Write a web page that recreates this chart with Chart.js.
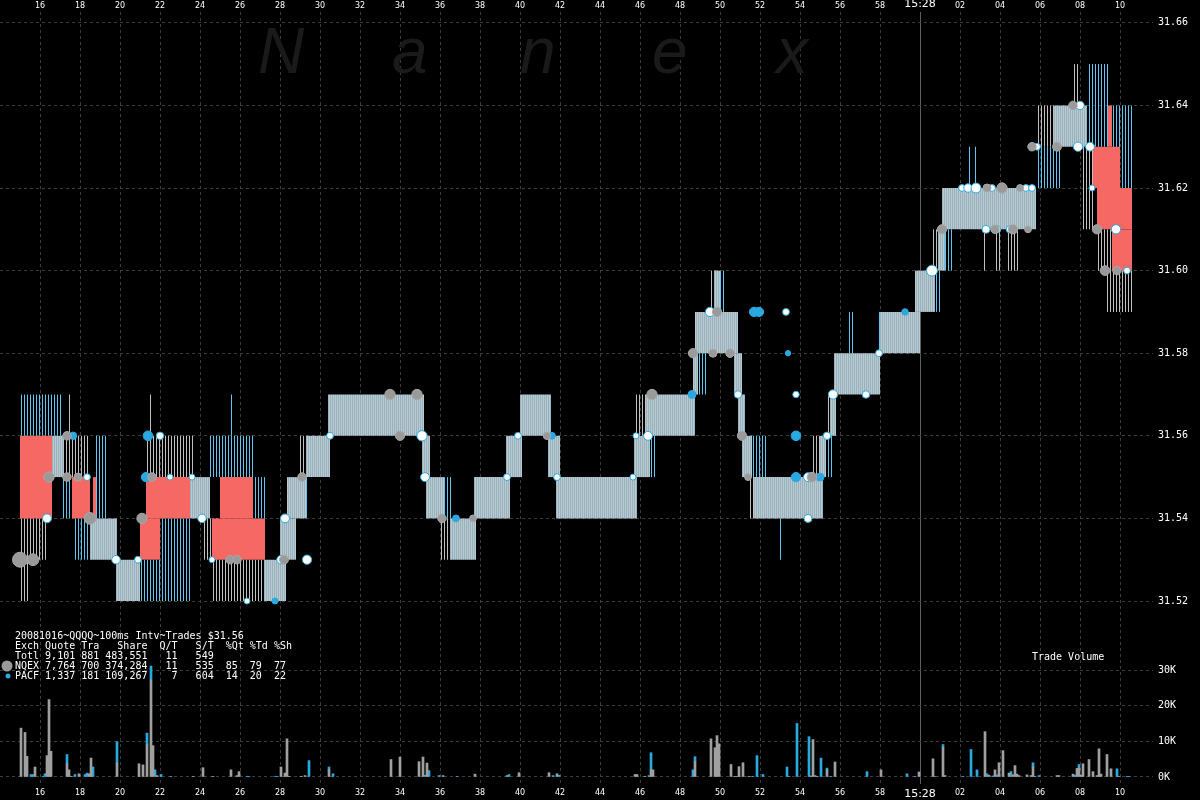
<!DOCTYPE html>
<html>
<head>
<meta charset="utf-8">
<title>QQQQ 100ms trades</title>
<script src="https://cdn.jsdelivr.net/npm/chart.js@4.4.1/dist/chart.umd.min.js"></script>
<style>
  html, body { margin: 0; padding: 0; background: #000; }
  #wrap { width: 1200px; height: 800px; }
</style>
</head>
<body>
<div id="wrap"><canvas id="chart" width="1200" height="800"></canvas></div>
<script>
// time is seconds after 15:27:00
const xTickValues = [16, 18, 20, 22, 24, 26, 28, 30, 32, 34, 36, 38, 40, 42, 44, 46, 48, 50, 52, 54, 56, 58, 60, 62, 64, 66, 68, 70];
const xTickLabels = ['16', '18', '20', '22', '24', '26', '28', '30', '32', '34', '36', '38', '40', '42', '44', '46', '48', '50', '52', '54', '56', '58', '15:28', '02', '04', '06', '08', '10'];
const priceTicks = [31.52, 31.54, 31.56, 31.58, 31.60, 31.62, 31.64, 31.66];
const volumeTicks = [0, 10000, 20000, 30000];

// quote ranges: [start, end, low, high]
const spreadSegs = [
  [16.6, 17.15, 31.55, 31.56], [18.5, 19.85, 31.53, 31.54], [19.8, 21.0, 31.52, 31.53],
  [23.5, 24.5, 31.54, 31.55], [27.2, 28.3, 31.52, 31.53], [28.0, 28.8, 31.53, 31.54],
  [28.35, 29.3, 31.54, 31.55], [29.3, 30.5, 31.55, 31.56], [30.4, 35.2, 31.56, 31.57],
  [35.1, 35.5, 31.55, 31.56], [35.3, 36.2, 31.54, 31.55], [36.5, 37.8, 31.53, 31.54],
  [37.7, 39.5, 31.54, 31.55], [39.3, 40.1, 31.55, 31.56], [40.0, 41.55, 31.56, 31.57],
  [41.4, 42.0, 31.55, 31.56], [41.8, 45.85, 31.54, 31.55], [45.7, 46.5, 31.55, 31.56],
  [46.25, 48.75, 31.56, 31.57], [48.65, 48.9, 31.57, 31.58], [48.75, 50.9, 31.58, 31.59],
  [49.7, 50.0, 31.59, 31.60], [50.7, 51.1, 31.57, 31.58], [50.9, 51.25, 31.56, 31.57],
  [51.1, 51.6, 31.55, 31.56], [51.65, 55.15, 31.54, 31.55], [55.0, 55.3, 31.55, 31.56],
  [55.5, 55.8, 31.56, 31.57], [55.7, 58.0, 31.57, 31.58], [58.0, 60.0, 31.58, 31.59],
  [59.75, 60.75, 31.59, 31.60], [60.9, 61.25, 31.60, 31.61], [61.1, 65.8, 31.61, 31.62],
  [66.7, 68.35, 31.63, 31.64]
];
const crossedSegs = [
  [15.0, 16.6, 31.54, 31.56], [17.6, 18.5, 31.54, 31.55], [18.65, 18.8, 31.54, 31.55],
  [21.0, 22.0, 31.53, 31.54], [21.3, 23.5, 31.54, 31.55], [24.6, 27.25, 31.53, 31.54],
  [25.0, 26.65, 31.54, 31.55], [69.4, 69.6, 31.63, 31.64], [68.65, 70.0, 31.62, 31.63],
  [68.85, 70.6, 31.61, 31.62], [69.6, 70.6, 31.60, 31.61]
];
const nqexQuoteSegs = [
  [15.0, 15.4, 31.52, 31.54], [15.4, 16.35, 31.53, 31.54], [17.15, 18.4, 31.55, 31.56],
  [17.4, 17.6, 31.56, 31.57], [21.3, 23.65, 31.55, 31.56], [21.45, 21.6, 31.56, 31.57],
  [24.15, 24.9, 31.53, 31.54], [24.6, 27.25, 31.52, 31.53], [29.0, 29.3, 31.55, 31.56],
  [36.0, 36.5, 31.53, 31.54], [45.75, 46.25, 31.56, 31.57], [49.45, 49.6, 31.59, 31.60],
  [51.4, 51.65, 31.54, 31.55], [54.6, 55.0, 31.55, 31.56], [55.3, 55.5, 31.56, 31.57],
  [60.6, 60.9, 31.60, 31.61], [63.15, 63.3, 31.60, 31.61], [63.7, 64.1, 31.60, 31.61],
  [64.4, 64.9, 31.60, 31.61], [65.8, 66.7, 31.63, 31.64], [67.7, 68.0, 31.64, 31.65],
  [68.1, 68.65, 31.61, 31.63], [68.9, 69.6, 31.60, 31.61], [69.25, 70.65, 31.59, 31.60]
];
const pacfQuoteSegs = [
  [15.0, 17.15, 31.56, 31.57], [17.15, 17.6, 31.54, 31.55], [17.65, 18.5, 31.53, 31.54],
  [18.75, 19.3, 31.54, 31.56], [21.0, 22.0, 31.52, 31.53], [22.0, 23.5, 31.52, 31.54],
  [24.5, 26.65, 31.55, 31.56], [25.45, 25.6, 31.56, 31.57], [26.65, 27.3, 31.54, 31.55],
  [29.15, 29.35, 31.54, 31.55], [36.2, 36.6, 31.54, 31.55], [46.5, 46.8, 31.55, 31.56],
  [48.9, 49.3, 31.57, 31.58], [49.7, 50.3, 31.59, 31.60], [51.6, 52.3, 31.55, 31.56],
  [53.0, 53.15, 31.53, 31.54], [55.3, 55.65, 31.55, 31.56], [56.45, 56.7, 31.58, 31.59],
  [57.85, 58.0, 31.58, 31.59], [60.75, 61.0, 31.59, 31.60], [61.25, 61.6, 31.60, 31.61],
  [62.35, 62.5, 31.62, 31.63], [62.75, 62.9, 31.62, 31.63], [65.8, 67.1, 31.62, 31.63],
  [68.35, 69.5, 31.63, 31.65], [69.6, 70.65, 31.62, 31.64]
];

// trades: [time, price, shares]
const nqexTrades = [
  [15.0, 31.53, 3000], [15.65, 31.53, 1500], [17.35, 31.56, 500], [16.45, 31.55, 1000],
  [17.35, 31.55, 500], [17.9, 31.55, 400], [18.5, 31.54, 1500], [21.1, 31.54, 1000],
  [21.6, 31.55, 500], [25.5, 31.53, 500], [25.85, 31.53, 500], [28.2, 31.53, 600],
  [29.1, 31.55, 500], [33.5, 31.57, 1000], [34.85, 31.57, 1000], [34.0, 31.56, 700],
  [36.1, 31.54, 500], [37.65, 31.54, 200], [41.35, 31.56, 300], [46.6, 31.57, 1000],
  [48.65, 31.58, 700], [49.65, 31.58, 400], [50.5, 31.58, 500], [49.85, 31.59, 700],
  [51.1, 31.56, 700], [51.4, 31.55, 200], [54.6, 31.55, 800], [61.1, 31.61, 700],
  [63.35, 31.62, 400], [64.1, 31.62, 1000], [65.0, 31.62, 200], [63.75, 31.61, 500],
  [64.65, 31.61, 700], [65.4, 31.61, 200], [65.6, 31.63, 500], [66.85, 31.63, 600],
  [67.65, 31.64, 500], [68.85, 31.61, 700], [69.25, 31.60, 800], [69.85, 31.60, 500]
];
const pacfTrades = [
  [17.65, 31.56, 300], [18.55, 31.54, 700], [21.4, 31.56, 800], [21.3, 31.55, 700],
  [27.75, 31.52, 100], [36.8, 31.54, 200], [41.6, 31.56, 200], [48.6, 31.57, 400],
  [51.7, 31.59, 700], [51.95, 31.59, 700], [53.8, 31.56, 800], [53.8, 31.55, 700],
  [55.0, 31.55, 400], [53.4, 31.58, 50], [59.25, 31.59, 150]
];
const otherTrades = [
  [15.1, 31.53, 600], [18.35, 31.55, 200], [16.35, 31.54, 600], [19.8, 31.53, 500],
  [20.9, 31.53, 200], [22.0, 31.56, 300], [22.5, 31.55, 100], [23.6, 31.55, 100],
  [24.1, 31.54, 500], [24.6, 31.53, 100], [26.35, 31.52, 100], [28.25, 31.54, 600],
  [28.05, 31.53, 500], [29.35, 31.53, 700], [30.5, 31.56, 200], [35.1, 31.56, 1000],
  [35.25, 31.55, 600], [39.35, 31.55, 200], [39.9, 31.56, 200], [41.85, 31.55, 200],
  [45.65, 31.55, 100], [45.8, 31.56, 100], [46.4, 31.56, 600], [49.5, 31.59, 700],
  [53.3, 31.59, 200], [50.9, 31.57, 300], [53.8, 31.57, 150], [55.35, 31.56, 300],
  [54.4, 31.55, 600], [54.4, 31.54, 400], [55.65, 31.57, 700], [57.3, 31.57, 300],
  [57.95, 31.58, 200], [60.6, 31.60, 1200], [62.1, 31.62, 200], [62.4, 31.62, 500],
  [62.8, 31.62, 900], [63.6, 31.62, 200], [65.3, 31.62, 200], [65.6, 31.62, 200],
  [63.3, 31.61, 400], [63.85, 31.61, 300], [64.5, 31.61, 300], [65.85, 31.63, 200],
  [68.0, 31.64, 500], [67.9, 31.63, 700], [68.5, 31.63, 600], [68.6, 31.62, 100],
  [69.8, 31.61, 700], [70.35, 31.60, 200]
];

// trade volume per 100ms: [time, shares]
const nqexVolume = [
  [15.05, 13700], [15.25, 12500], [15.35, 5800], [15.75, 2800], [16.35, 6000], [16.45, 21700],
  [16.55, 7200], [17.35, 3700], [17.45, 2000], [17.55, 200], [17.95, 900], [18.45, 900],
  [18.55, 5300], [19.85, 3900], [20.95, 3700], [21.15, 3400], [21.35, 9000], [21.55, 27200],
  [21.65, 8800], [21.85, 400], [23.65, 200], [24.15, 2600], [24.65, 200], [25.55, 2000],
  [25.85, 400], [25.95, 1500], [28.05, 2800], [28.25, 1100], [28.35, 10700], [28.45, 200],
  [29.05, 200], [29.25, 400], [30.45, 2000], [33.55, 4900], [34.0, 5600], [34.95, 4300],
  [35.15, 5600], [35.35, 3900], [36.15, 400], [37.75, 800], [39.35, 400], [39.95, 1200],
  [41.45, 1200], [41.85, 900], [45.75, 700], [45.85, 700], [46.25, 200], [46.55, 2000],
  [46.65, 2000], [48.75, 4300], [49.55, 10700], [49.75, 8200], [49.85, 11600], [49.95, 9300],
  [50.55, 3500], [50.75, 200], [50.85, 200], [50.95, 2900], [51.15, 4000], [51.45, 200],
  [54.55, 300], [54.65, 10500], [54.75, 400], [54.85, 200], [55.35, 2000], [55.75, 4200],
  [58.05, 2000], [59.95, 1400], [60.65, 5100], [61.15, 8300], [61.25, 400], [63.25, 12700],
  [63.45, 500], [63.75, 2000], [63.95, 4000], [64.15, 7400], [64.45, 1100], [64.65, 600],
  [64.75, 3200], [64.85, 800], [64.95, 400], [65.35, 600], [65.55, 400], [65.65, 2800],
  [65.75, 200], [66.85, 400], [66.95, 400], [67.65, 800], [67.85, 2400], [67.95, 2500],
  [68.05, 500], [68.15, 3700], [68.45, 4900], [68.65, 1500], [68.85, 400], [68.95, 7900],
  [69.05, 800], [69.35, 6300], [69.55, 2300], [69.95, 200]
];
const pacfVolume = [
  [15.55, 700], [15.65, 700], [16.15, 200], [16.25, 900], [17.35, 2600], [17.75, 700],
  [18.25, 700], [18.35, 1100], [18.65, 2800], [19.85, 6000], [21.35, 3300], [21.55, 3900],
  [21.75, 2000], [22.05, 700], [22.55, 200], [26.35, 200], [26.45, 200], [27.75, 200],
  [27.85, 200], [29.45, 4600], [30.45, 800], [30.65, 900], [35.25, 500], [35.45, 1800],
  [35.95, 400], [36.85, 200], [39.45, 700], [41.65, 400], [41.95, 500], [46.45, 400],
  [46.55, 4800], [48.65, 2000], [48.75, 1400], [51.65, 200], [51.85, 6000], [52.15, 700],
  [53.35, 2800], [53.45, 200], [53.85, 15000], [54.45, 11300], [55.05, 5300], [55.35, 500],
  [55.55, 200], [57.35, 1500], [59.35, 900], [59.75, 200], [60.75, 200], [61.15, 800],
  [62.15, 200], [62.55, 7700], [62.85, 2000], [63.35, 900], [63.65, 300], [63.85, 600],
  [64.55, 1500], [65.65, 1200], [65.95, 400], [67.75, 500], [67.95, 1000], [69.85, 2300],
  [70.35, 200], [70.45, 200]
];

const canvas = document.getElementById('chart');
const ctx = canvas.getContext('2d');

function stripes(colors) {
  const tile = document.createElement('canvas');
  tile.width = colors.length;
  tile.height = 1;
  const t = tile.getContext('2d');
  colors.forEach((c, i) => {
    if (c) { t.fillStyle = c; t.fillRect(i, 0, 1, 1); }
  });
  return ctx.createPattern(tile, 'repeat');
}
const denseFill = stripes(['#8cb6c8', '#c6c6c6']);
const nqexFill = stripes(['#c0c0c0', null, null]);
const pacfFill = stripes(['#5cc6ee', null, null]);

function rangeSets(segs, fill, order) {
  return segs.map(([t0, t1, lo, hi]) => ({
    type: 'line',
    data: [{ x: t0, y: hi }, { x: t1, y: hi }],
    yAxisID: 'y',
    borderColor: 'transparent',
    borderWidth: 0,
    pointRadius: 0,
    backgroundColor: fill,
    fill: { value: lo },
    order: order
  }));
}

function tradeRadius(shares) {
  return Math.min(8, 2 + Math.sqrt(shares) / 10);
}

function tradeSet(trades, bg, border, order) {
  return {
    type: 'scatter',
    data: trades.map(([t, p]) => ({ x: t, y: p })),
    yAxisID: 'y',
    pointRadius: trades.map(tr => tradeRadius(tr[2])),
    pointBackgroundColor: bg,
    pointBorderColor: border,
    pointBorderWidth: 1,
    order: order
  };
}

function volumeSet(vol, color) {
  return {
    type: 'bar',
    data: vol.map(([t, v]) => ({ x: t, y: v })),
    yAxisID: 'yVol',
    backgroundColor: color,
    barThickness: 2,
    stack: 'vol',
    order: 1
  };
}

const gridColor = '#3d3d3d';
const labelFont = { family: 'DejaVu Sans Mono', size: 10 };

const overlay = {
  id: 'overlay',
  beforeDatasetsDraw(chart) {
    const c = chart.ctx;
    c.save();
    c.fillStyle = '#1a1a1a';
    c.font = 'italic 64px "Liberation Sans"';
    c.textBaseline = 'alphabetic';
    [['N', 258], ['a', 392], ['n', 520], ['e', 652], ['x', 776]].forEach(([ch, x]) => c.fillText(ch, x, 73));
    c.restore();
  },
  afterDraw(chart) {
    const c = chart.ctx;
    c.save();
    c.fillStyle = '#ffffff';
    c.font = '10px "DejaVu Sans Mono"';
    c.textBaseline = 'middle';
    const lines = [
      '20081016~QQQQ~100ms Intv~Trades $31.56',
      'Exch Quote Tra   Share  Q/T   S/T  %Qt %Td %Sh',
      'Totl 9,101 881 483,551   11   549',
      'NQEX 7,764 700 374,284   11   535  85  79  77',
      'PACF 1,337 181 109,267    7   604  14  20  22'
    ];
    const ys = [636, 646.5, 656.5, 666, 676];
    lines.forEach((s, i) => c.fillText(s, 15, ys[i]));
    c.fillText('Trade Volume', 1032, 657);
    c.fillStyle = '#9a9a9a';
    c.beginPath(); c.arc(7, 666, 5.5, 0, Math.PI * 2); c.fill();
    c.fillStyle = '#2aa9e0';
    c.beginPath(); c.arc(8, 676, 2.5, 0, Math.PI * 2); c.fill();
    c.restore();
  }
};

const xTicks = {
  color: '#ffffff',
  autoSkip: false,
  maxRotation: 0,
  font: c => ({ family: 'DejaVu Sans', size: c.tick && c.tick.value === 60 ? 11 : 8 }),
  callback: (v, i) => xTickLabels[i]
};

function fitX(h) {
  return s => { s.height = h; s.paddingLeft = 0; s.paddingRight = 0; };
}

new Chart(ctx, {
  type: 'line',
  data: {
    datasets: [
      tradeSet(nqexTrades, '#9a9a9a', '#a8a8a8', 0),
      tradeSet(pacfTrades, '#2aa9e0', '#2aa9e0', 0),
      tradeSet(otherTrades, '#ffffff', '#2aa9e0', 0),
      volumeSet(nqexVolume, '#a0a0a0'),
      volumeSet(pacfVolume, '#2aa9e0'),
      ...rangeSets(crossedSegs, '#f66864', 2),
      ...rangeSets(spreadSegs, denseFill, 3),
      ...rangeSets(nqexQuoteSegs, nqexFill, 4),
      ...rangeSets(pacfQuoteSegs, pacfFill, 4)
    ]
  },
  options: {
    responsive: false,
    devicePixelRatio: 1,
    animation: false,
    layout: { padding: 0, autoPadding: false },
    plugins: {
      legend: { display: false },
      tooltip: { enabled: false }
    },
    scales: {
      x: {
        type: 'linear',
        position: 'bottom',
        min: 14,
        max: 71,
        offset: false,
        afterBuildTicks: s => { s.ticks = xTickValues.map(v => ({ value: v })); },
        afterFit: fitX(16),
        grid: {
          offset: false,
          color: c => c.tick && c.tick.value === 60 ? '#5e5e5e' : gridColor,
          drawTicks: false
        },
        border: { display: false, dash: c => c.tick && c.tick.value === 60 ? [] : [3, 3] },
        ticks: Object.assign({ padding: 4 }, xTicks)
      },
      xTop: {
        type: 'linear',
        position: 'top',
        min: 14,
        max: 71,
        offset: false,
        afterBuildTicks: s => { s.ticks = xTickValues.map(v => ({ value: v })); },
        afterFit: fitX(12),
        grid: { display: false, drawTicks: false, offset: false },
        border: { display: false },
        ticks: Object.assign({ padding: 1 }, xTicks)
      },
      y: {
        type: 'linear',
        position: 'right',
        stack: 'right',
        stackWeight: 608,
        weight: 0,
        min: 31.5154,
        max: 31.66262,
        afterBuildTicks: s => { s.ticks = priceTicks.map(v => ({ value: v })); },
        afterFit: s => { s.width = 60; s.paddingTop = 0; s.paddingBottom = 0; },
        grid: { color: gridColor, tickLength: 13, tickColor: gridColor, tickBorderDash: [3, 3] },
        border: { display: false, dash: [3, 3] },
        ticks: { color: '#ffffff', font: labelFont, padding: 5, callback: v => v.toFixed(2) }
      },
      yVol: {
        type: 'linear',
        position: 'right',
        stack: 'right',
        stackWeight: 164,
        weight: 1,
        stacked: true,
        min: -1963,
        max: 44020,
        afterBuildTicks: s => { s.ticks = volumeTicks.map(v => ({ value: v })); },
        afterFit: s => { s.width = 60; s.paddingTop = 0; s.paddingBottom = 0; },
        grid: { color: gridColor, tickLength: 13, tickColor: gridColor, tickBorderDash: [3, 3] },
        border: { display: false, dash: [3, 3] },
        ticks: { color: '#ffffff', font: labelFont, padding: 5, callback: v => (v / 1000) + 'K' }
      }
    }
  },
  plugins: [overlay]
});
</script>
</body>
</html>
